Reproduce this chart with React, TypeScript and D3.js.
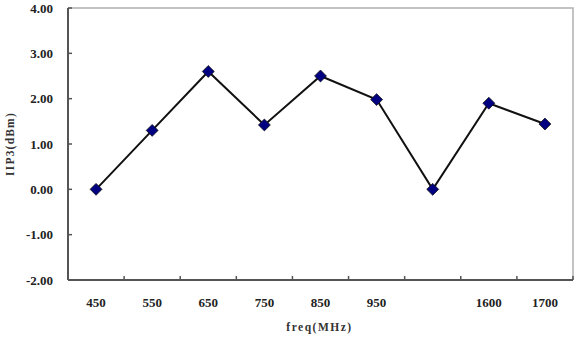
import { useEffect, useRef } from "react"
import * as d3 from "d3"

const freqs = ["450", "550", "650", "750", "850", "950", "", "1600", "1700"]
const iip3 = [0, 1.3, 2.6, 1.42, 2.5, 1.98, 0, 1.9, 1.44]
const yTicks = [-2, -1, 0, 1, 2, 3, 4]

export default function App() {
  const svgRef = useRef<SVGSVGElement>(null)

  useEffect(() => {
    const svg = d3.select(svgRef.current)
    svg.selectAll("*").remove()

    const W = 580
    const H = 339
    const margin = { top: 8, right: 7, bottom: 59, left: 68 }
    const width = W - margin.left - margin.right
    const height = H - margin.top - margin.bottom

    svg.attr("width", W).attr("height", H)
    const font = "'Liberation Serif', 'Times New Roman', serif"

    const g = svg.append("g").attr("transform", `translate(${margin.left},${margin.top})`)

    const idx = freqs.map((_, i) => String(i))
    const x = d3.scaleBand().domain(idx).range([0, width]).padding(0)
    const y = d3.scaleLinear().domain([-2, 4]).range([height, 0])

    // frame: light top/right
    g.append("path")
      .attr("d", `M0,0H${width}V${height}`)
      .attr("fill", "none")
      .attr("stroke", "#b0b0b0")
      .attr("stroke-width", 1.5)

    // left axis
    g.append("line")
      .attr("x1", 0).attr("x2", 0).attr("y1", 0).attr("y2", height)
      .attr("stroke", "#555").attr("stroke-width", 2)
    g.selectAll(".ytick")
      .data(yTicks)
      .enter()
      .append("line")
      .attr("x1", 0).attr("x2", 4)
      .attr("y1", d => y(d)).attr("y2", d => y(d))
      .attr("stroke", "#555").attr("stroke-width", 1.5)
    g.selectAll(".ylab")
      .data(yTicks)
      .enter()
      .append("text")
      .attr("x", -15)
      .attr("y", d => y(d))
      .attr("dy", "0.35em")
      .attr("text-anchor", "end")
      .attr("font-family", font)
      .attr("font-weight", "bold")
      .attr("font-size", 13)
      .attr("fill", "#222")
      .text(d => d.toFixed(2))

    // bottom axis
    g.append("line")
      .attr("x1", 0).attr("x2", width).attr("y1", height).attr("y2", height)
      .attr("stroke", "#555").attr("stroke-width", 2)
    const bounds = idx.slice(1).map(d => x(d)!).concat([width])
    g.selectAll(".xtick")
      .data(bounds)
      .enter()
      .append("line")
      .attr("x1", d => d).attr("x2", d => d)
      .attr("y1", height).attr("y2", height - 4)
      .attr("stroke", "#555").attr("stroke-width", 1.5)
    g.selectAll(".xlab")
      .data(freqs)
      .enter()
      .append("text")
      .attr("x", (_, i) => x(String(i))! + x.bandwidth() / 2)
      .attr("y", height + 27)
      .attr("text-anchor", "middle")
      .attr("font-family", font)
      .attr("font-weight", "bold")
      .attr("font-size", 13)
      .attr("fill", "#222")
      .text(d => d)

    // axis titles
    g.append("text")
      .attr("x", width / 2 - 1)
      .attr("y", height + 51)
      .attr("text-anchor", "middle")
      .attr("font-family", font)
      .attr("font-weight", "bold")
      .attr("font-size", 11.5)
      .attr("letter-spacing", 1.5)
      .attr("fill", "#333")
      .text("freq(MHz)")
    g.append("text")
      .attr("transform", `translate(${-54},${height / 2}) rotate(-90)`)
      .attr("text-anchor", "middle")
      .attr("font-family", font)
      .attr("font-weight", "bold")
      .attr("font-size", 11.5)
      .attr("letter-spacing", 1.2)
      .attr("fill", "#333")
      .text("IIP3(dBm)")

    // line
    const cx = (i: number) => x(String(i))! + x.bandwidth() / 2
    const line = d3.line<number>().x((_, i) => cx(i)).y(d => y(d))
    g.append("path")
      .datum(iip3)
      .attr("d", line)
      .attr("fill", "none")
      .attr("stroke", "#111")
      .attr("stroke-width", 2)

    // diamond markers
    const diamond = d3.symbol().type(d3.symbolDiamond2).size(90)
    g.selectAll(".pt")
      .data(iip3)
      .enter()
      .append("path")
      .attr("d", diamond)
      .attr("transform", (d, i) => `translate(${cx(i)},${y(d)})`)
      .attr("fill", "#000080")
      .attr("stroke", "#111")
      .attr("stroke-width", 0.8)
  }, [])

  return (
    <svg ref={svgRef} style={{ position: "absolute", left: 0, top: 0, background: "#fff" }}></svg>
  )
}
